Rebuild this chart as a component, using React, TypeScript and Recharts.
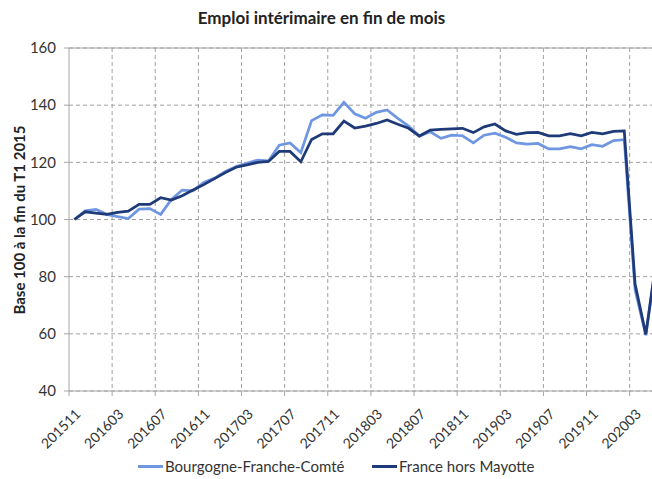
import React from 'react';
import { LineChart, Line, XAxis, YAxis, CartesianGrid, ReferenceLine } from 'recharts';

const months = [
  '201511', '201512', '201601', '201602', '201603', '201604', '201605', '201606', '201607', '201608',
  '201609', '201610', '201611', '201612', '201701', '201702', '201703', '201704', '201705', '201706',
  '201707', '201708', '201709', '201710', '201711', '201712', '201801', '201802', '201803', '201804',
  '201805', '201806', '201807', '201808', '201809', '201810', '201811', '201812', '201901', '201902',
  '201903', '201904', '201905', '201906', '201907', '201908', '201909', '201910', '201911', '201912',
  '202001', '202002', '202003', '202004', '202005',
];

const bfc = [
  100, 103, 103.5, 101.8, 101, 100.3, 103.6, 103.8, 101.8, 107,
  110.3, 110, 113, 114.5, 116.8, 118.5, 119.7, 120.8, 120.5, 126,
  126.8, 123.4, 134.6, 136.6, 136.4, 141, 137, 135.4, 137.5, 138.3,
  135.4, 132.7, 129.2, 130.7, 128.4, 129.5, 129.3, 126.8, 129.5, 130.2,
  128.8, 126.8, 126.4, 126.6, 124.7, 124.7, 125.5, 124.7, 126.2, 125.6,
  127.6, 127.9, 75.5, 59.5, 86,
];

const france = [
  100, 102.7, 102.2, 101.8, 102.5, 102.9, 105.3, 105.3, 107.6, 106.8,
  108.3, 110.3, 112.2, 114.3, 116.4, 118.3, 119.1, 120, 120.3, 123.8,
  123.8, 120.2, 128, 130, 130, 134.4, 132, 132.7, 133.6, 134.8,
  133.3, 131.9, 129.2, 131.3, 131.5, 131.7, 131.9, 130.4, 132.4, 133.4,
  131, 129.8, 130.4, 130.5, 129.3, 129.3, 130, 129.3, 130.5, 130,
  130.8, 131, 77.5, 59.8, 87,
];

const yTicks = [40, 60, 80, 100, 120, 140, 160];

const series = [
  { key: 'bfc', name: 'Bourgogne-Franche-Comté', color: '#6f96e0', legendX: 138 },
  { key: 'fra', name: 'France hors Mayotte', color: '#1f3a78', legendX: 372 },
];

const data = months.map((m, i) => ({ mois: m, bfc: bfc[i], fra: france[i] }));

const CHART_W = 668;
const CHART_H = 479;
const MARGIN = { top: 48, right: 6, bottom: 0, left: 0 };
const YAXIS_W = 69;
const XAXIS_H = 88;
const BAND = (CHART_W - MARGIN.right - MARGIN.left - YAXIS_W) / months.length;

const AXIS = '#a6a6a6';
const GRID = '#a0a0a0';
const TEXT = '#333333';
const FONT = 'Lato, "Open Sans", sans-serif';

const XTick = (props: any) => {
  const { x, y, payload } = props;
  const bx = x - BAND / 2;
  const tx = x + 7;
  const ty = y + 24;
  return (
    <g>
      <line x1={bx} y1={y} x2={bx} y2={y + 5} stroke={AXIS} />
      <text x={tx} y={ty} transform={`rotate(-45, ${tx}, ${ty})`} textAnchor="end" fontSize={14} fill={TEXT} fontFamily={FONT}>
        {payload.value}
      </text>
    </g>
  );
};

export default function App() {
  return (
    <div style={{ position: 'absolute', left: 0, top: 0, width: 652, height: 479, overflow: 'hidden', background: '#fff', fontFamily: FONT }}>
      <div style={{ position: 'absolute', left: 0, top: 7, width: 643, textAlign: 'center', fontWeight: 700, fontSize: 17, lineHeight: '22px', color: '#222' }}>
        Emploi intérimaire en fin de mois
      </div>
      <div style={{ position: 'absolute', left: 19, top: 220, transform: 'translate(-50%, -50%) rotate(-90deg)', whiteSpace: 'nowrap', fontWeight: 700, fontSize: 15, color: '#222' }}>
        Base 100 à la fin du T1 2015
      </div>
      <LineChart width={CHART_W} height={CHART_H} data={data} margin={MARGIN}>
        <CartesianGrid
          stroke={GRID}
          strokeDasharray="4 3"
          verticalCoordinatesGenerator={({ offset }: any) => {
            const w = offset.width / months.length;
            const out: number[] = [];
            for (let k = 4; k < months.length; k += 4) out.push(offset.left + k * w);
            return out;
          }}
        />
        <ReferenceLine y={160} stroke={AXIS} />
        <XAxis
          dataKey="mois"
          interval={3}
          height={XAXIS_H}
          padding={{ left: BAND / 2, right: BAND / 2 }}
          axisLine={{ stroke: AXIS }}
          tickLine={false}
          tickSize={0}
          tickMargin={0}
          tick={<XTick />}
        />
        <YAxis
          domain={[40, 160]}
          ticks={yTicks}
          width={YAXIS_W}
          axisLine={{ stroke: AXIS }}
          tickLine={{ stroke: AXIS }}
          tickSize={5}
          tickMargin={8}
          tick={{ fontSize: 15, fill: TEXT, fontFamily: FONT }}
        />
        {series.map((s) => (
          <Line key={s.key} type="linear" dataKey={s.key} name={s.name} stroke={s.color} strokeWidth={2.75} dot={false} isAnimationActive={false} />
        ))}
      </LineChart>
      {series.map((s) => (
        <div key={s.key} style={{ position: 'absolute', left: s.legendX, top: 457, display: 'flex', alignItems: 'center', fontSize: 15, color: TEXT, lineHeight: '18px', whiteSpace: 'nowrap' }}>
          <span style={{ display: 'inline-block', width: 25, height: 3, background: s.color, marginRight: 2 }} />
          <span>{s.name}</span>
        </div>
      ))}
    </div>
  );
}
